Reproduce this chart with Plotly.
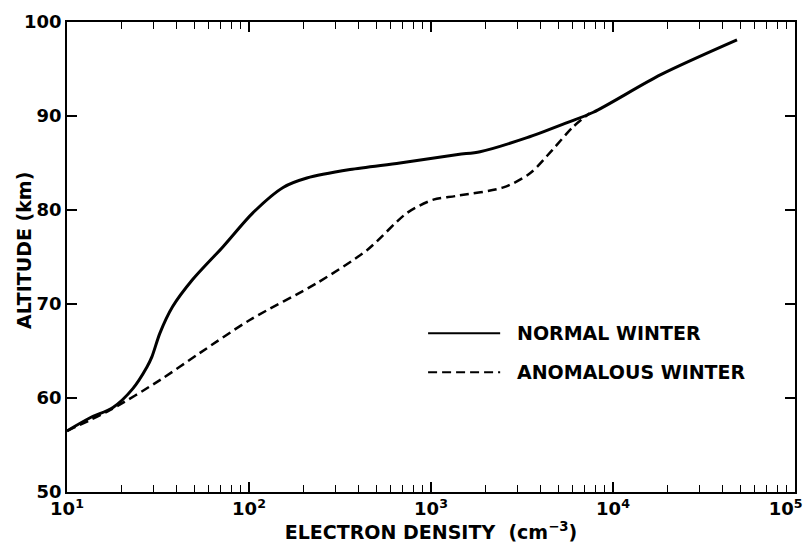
import plotly.graph_objects as go

# Electron density profiles (cm^-3) versus altitude (km)
normal_density = [10, 13.4, 17.9, 23, 27.5, 29.3, 32.4, 38, 49, 72, 105, 154, 208, 359, 675, 1406, 1860, 3370, 5600, 7800, 18300, 48000]
normal_altitude = [56.5, 57.9, 59.0, 61.0, 63.3, 64.4, 66.9, 69.7, 72.6, 76.1, 79.7, 82.4, 83.4, 84.3, 85.0, 85.9, 86.2, 87.7, 89.3, 90.4, 94.4, 98.1]

anomalous_density = [10, 17.2, 32.4, 53.8, 101, 235, 443, 740, 1030, 1380, 2500, 3500, 4650, 6000, 7450]
anomalous_altitude = [56.5, 58.7, 61.9, 64.8, 68.3, 72.2, 75.7, 79.7, 81.1, 81.5, 82.4, 83.9, 86.4, 88.8, 90.3]

x_tickvals = [10, 100, 1000, 10000, 100000]
# trailing spaces on the last label keep it inside the page edge
x_ticktext = ["10<sup>1</sup>", "10<sup>2</sup>", "10<sup>3</sup>", "10<sup>4</sup>",
              "10<sup>5</sup>\u00a0\u00a0\u00a0"]
y_tickvals = [50, 60, 70, 80, 90, 100]

legend_labels = ["NORMAL WINTER", "ANOMALOUS WINTER"]

FONT = dict(family="DejaVu Sans, sans-serif", size=19, color="black", weight="bold")
TICK_FONT = dict(family="DejaVu Sans, sans-serif", size=18, color="black", weight="bold")

fig = go.Figure()
fig.add_trace(go.Scatter(
    x=normal_density, y=normal_altitude, mode="lines",
    line=dict(color="black", width=3, shape="spline", smoothing=0.8),
    name=legend_labels[0], showlegend=False,
))
fig.add_trace(go.Scatter(
    x=anomalous_density, y=anomalous_altitude, mode="lines",
    line=dict(color="black", width=2.5, dash="9px,5px", shape="spline", smoothing=0.8),
    name=legend_labels[1], showlegend=False,
))

# Hand-drawn style key inside the plot
key_rows = [(0.338, "solid"), (0.255, "9px,5px")]
for (ypos, dash), label in zip(key_rows, legend_labels):
    fig.add_shape(type="line", xref="paper", yref="paper",
                  x0=0.496, x1=0.595, y0=ypos, y1=ypos,
                  line=dict(color="black", width=2, dash=dash))
    fig.add_annotation(xref="paper", yref="paper", x=0.616, y=ypos,
                       text=label, showarrow=False, xanchor="left", yanchor="middle",
                       font=FONT)

# Vertical axis title, set close to the tick labels
fig.add_annotation(xref="paper", yref="paper", x=-0.059, y=0.513,
                   text="ALTITUDE (km)", textangle=-90, showarrow=False,
                   xanchor="center", yanchor="middle", font=FONT)

fig.update_xaxes(
    type="log", range=[1, 5], automargin=False,
    tickvals=x_tickvals, ticktext=x_ticktext,
    ticks="inside", ticklen=10, tickwidth=1.5, tickcolor="black",
    minor=dict(ticks="inside", ticklen=7, tickwidth=1.2, tickcolor="black",
               tickvals=[m * 10 ** e for e in range(1, 5) for m in range(2, 10)]),
    showline=True, linecolor="black", linewidth=1.5, mirror="ticks",
    showgrid=False, zeroline=False,
    tickfont=TICK_FONT, ticklabeloverflow="allow",
    title=dict(text="ELECTRON DENSITY  (cm<sup>−3</sup>)", font=FONT, standoff=2),
)
fig.update_yaxes(
    range=[50, 100], tickvals=y_tickvals, automargin=False,
    ticks="inside", ticklen=10, tickwidth=1.5, tickcolor="black",
    showline=True, linecolor="black", linewidth=1.5, mirror="ticks",
    showgrid=False, zeroline=False,
    tickfont=TICK_FONT, ticklabeloverflow="allow",
)

fig.update_layout(
    width=809, height=550,
    margin=dict(l=67, r=14, t=22, b=58),
    paper_bgcolor="white", plot_bgcolor="white",
    showlegend=False,
)

fig.write_html("out.html")
